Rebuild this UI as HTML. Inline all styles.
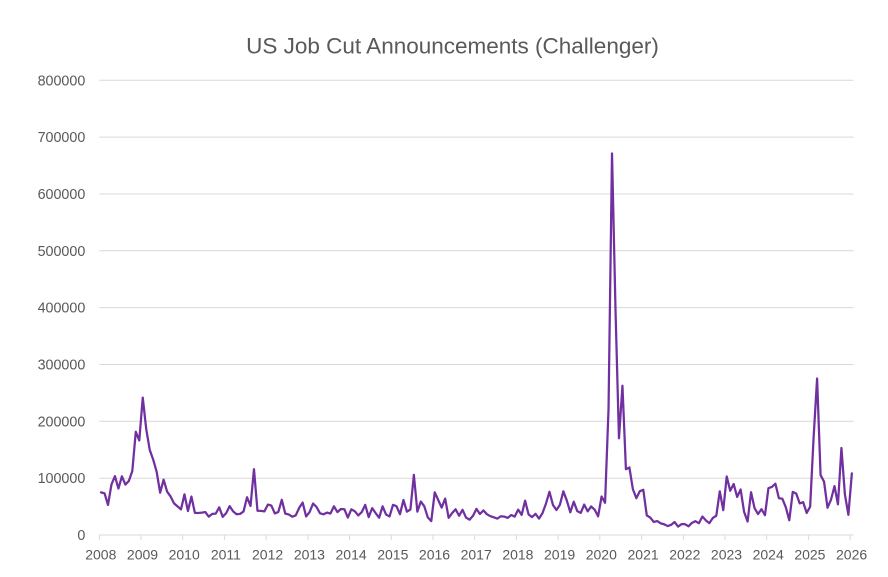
<!DOCTYPE html>
<html>
<head>
<meta charset="utf-8">
<style>
  html,body{margin:0;padding:0;background:#fff;}
  svg{display:block;}
  text{font-family:"Liberation Sans",Arial,sans-serif;fill:#595959;}
</style>
</head>
<body>
<svg width="888" height="577" viewBox="0 0 888 577" xmlns="http://www.w3.org/2000/svg">
  <rect x="0" y="0" width="888" height="577" fill="#ffffff"/>
  <text x="452.5" y="53.5" font-size="22.5" text-anchor="middle">US Job Cut Announcements (Challenger)</text>

  <!-- gridlines -->
  <g stroke="#d9d9d9" stroke-width="1">
    <line x1="99.3" x2="853.6" y1="80.3" y2="80.3"/>
    <line x1="99.3" x2="853.6" y1="137.1" y2="137.1"/>
    <line x1="99.3" x2="853.6" y1="194" y2="194"/>
    <line x1="99.3" x2="853.6" y1="250.8" y2="250.8"/>
    <line x1="99.3" x2="853.6" y1="307.6" y2="307.6"/>
    <line x1="99.3" x2="853.6" y1="364.5" y2="364.5"/>
    <line x1="99.3" x2="853.6" y1="421.3" y2="421.3"/>
    <line x1="99.3" x2="853.6" y1="478.2" y2="478.2"/>
    <line x1="99.3" x2="853.6" y1="535" y2="535"/>
  </g>
  <!-- ticks -->
  <g stroke="#d9d9d9" stroke-width="1">
    <line x1="99.3" x2="99.3" y1="535" y2="540"/>
    <line x1="141.0" x2="141.0" y1="535" y2="540"/>
    <line x1="182.7" x2="182.7" y1="535" y2="540"/>
    <line x1="224.4" x2="224.4" y1="535" y2="540"/>
    <line x1="266.1" x2="266.1" y1="535" y2="540"/>
    <line x1="307.9" x2="307.9" y1="535" y2="540"/>
    <line x1="349.6" x2="349.6" y1="535" y2="540"/>
    <line x1="391.3" x2="391.3" y1="535" y2="540"/>
    <line x1="433.0" x2="433.0" y1="535" y2="540"/>
    <line x1="474.7" x2="474.7" y1="535" y2="540"/>
    <line x1="516.4" x2="516.4" y1="535" y2="540"/>
    <line x1="558.1" x2="558.1" y1="535" y2="540"/>
    <line x1="599.8" x2="599.8" y1="535" y2="540"/>
    <line x1="641.6" x2="641.6" y1="535" y2="540"/>
    <line x1="683.3" x2="683.3" y1="535" y2="540"/>
    <line x1="725.0" x2="725.0" y1="535" y2="540"/>
    <line x1="766.7" x2="766.7" y1="535" y2="540"/>
    <line x1="808.4" x2="808.4" y1="535" y2="540"/>
    <line x1="850.1" x2="850.1" y1="535" y2="540"/>
  </g>

  <!-- y labels -->
  <g font-size="14.3" text-anchor="end">
    <text x="85.3" y="85.3">800000</text>
    <text x="85.3" y="142.1">700000</text>
    <text x="85.3" y="199">600000</text>
    <text x="85.3" y="255.8">500000</text>
    <text x="85.3" y="312.6">400000</text>
    <text x="85.3" y="369.5">300000</text>
    <text x="85.3" y="426.3">200000</text>
    <text x="85.3" y="483.2">100000</text>
    <text x="85.3" y="540">0</text>
  </g>

  <!-- x labels -->
  <g font-size="14" text-anchor="middle">
    <text x="100.8" y="559.3">2008</text>
    <text x="142.5" y="559.3">2009</text>
    <text x="184.2" y="559.3">2010</text>
    <text x="225.9" y="559.3">2011</text>
    <text x="267.6" y="559.3">2012</text>
    <text x="309.4" y="559.3">2013</text>
    <text x="351.1" y="559.3">2014</text>
    <text x="392.8" y="559.3">2015</text>
    <text x="434.5" y="559.3">2016</text>
    <text x="476.2" y="559.3">2017</text>
    <text x="517.9" y="559.3">2018</text>
    <text x="559.6" y="559.3">2019</text>
    <text x="601.3" y="559.3">2020</text>
    <text x="643.1" y="559.3">2021</text>
    <text x="684.8" y="559.3">2022</text>
    <text x="726.5" y="559.3">2023</text>
    <text x="768.2" y="559.3">2024</text>
    <text x="809.9" y="559.3">2025</text>
    <text x="851.6" y="559.3">2026</text>
  </g>

  <!-- series -->
  <g transform="translate(101.04,535) scale(3.476,-0.5684)">
    <polyline fill="none" stroke="#7030a0" stroke-width="2.25" stroke-linejoin="round" stroke-linecap="round" vector-effect="non-scaling-stroke"
      points="0,74.986 1,73.291 2,53 3,89 4,103.522 5,81.755 6,103.312 7,88.736 8,95.094 9,112.884 10,181.671 11,166.348
      12,241.749 13,186.35 14,150 15,132.651 16,111.182 17,74.393 18,97.373 19,76.456 20,67.808 21,55.679 22,50.349 23,45.094
      24,71.482 25,42.09 26,67.611 27,38.919 28,38.81 29,39.358 30,40.358 31,32.271 32,37.151 33,37.573 34,48.711 35,32.004
      36,38.519 37,50.702 38,41.528 39,36.49 40,37.135 41,41.432 42,66.414 43,51.114 44,115.73 45,42.759 46,42.474 47,41.551
      48,53.486 49,51.728 50,37.88 51,40.559 52,61.887 53,37.551 54,36.137 55,32.239 56,34.392 57,47.724 58,57.081 59,32.556
      60,40.43 61,55.356 62,49.255 63,38.121 64,36.398 65,39.372 66,37.701 67,50.462 68,40.289 69,45.73 70,45.314 71,30.623
      72,45.107 73,41.835 74,34.399 75,40.298 76,52.961 77,31.434 78,47.239 79,38.43 80,30.477 81,50.462 82,35.94 83,32.64
      84,53.041 85,50.579 86,36.594 87,61.582 88,41.034 89,44.842 90,105.696 91,41.186 92,58.877 93,50.504 94,30.953 95,24.447
      96,75.114 97,61.599 98,48.207 99,64.141 100,30.157 101,38.536 102,45.346 103,33.825 104,44.324 105,30.74 106,26.936 107,33.627
      108,45.934 109,36.957 110,43.31 111,36.602 112,33.092 113,31.105 114,28.802 115,32.999 116,32.346 117,30.038 118,35.22 119,32.423
      120,44.653 121,35.369 122,60.357 123,36.081 124,31.517 125,37.202 126,28.83 127,38.472 128,55.285 129,76 130,53.073 131,43.884
      132,52.988 133,76.835 134,60.587 135,40.023 136,58.577 137,41.977 138,38.845 139,53.48 140,41.557 141,50.275 142,44.569 143,32.843
      144,67.735 145,56.66 146,222.288 147,671.129 148,397.016 149,170.219 150,262.649 151,115.762 152,118.804 153,80.666 154,64.797 155,77.03
      156,79.552 157,34.531 158,30.603 159,22.913 160,24.586 161,20.476 162,18.942 163,15.723 164,17.895 165,22.822 166,14.875 167,19.052
      168,19.064 169,15.245 170,21.387 171,24.286 172,20.712 173,32.517 174,25.81 175,20.781 176,29.989 177,33.843 178,76.835 179,43.651
      180,102.943 181,77.77 182,89.703 183,66.995 184,80.089 185,40.709 186,23.697 187,75.151 188,47.457 189,36.836 190,45.51 191,34.817
      192,82.307 193,84.638 194,90.309 195,64.789 196,63.816 197,48.786 198,25.885 199,75.891 200,72.821 201,55.597 202,57.727 203,38.792
      204,49.795 205,172.017 206,275.24 207,105.441 208,93.816 209,47.999 210,62.075 211,85.979 212,54.064 213,153.074 214,71.321 215,35.553
      216,108.435"/>
  </g>
</svg>
</body>
</html>
